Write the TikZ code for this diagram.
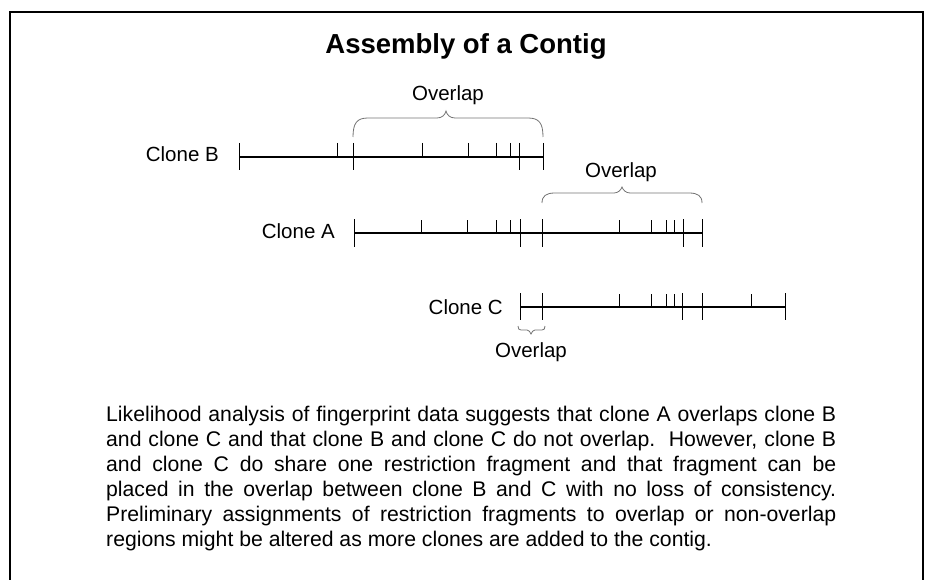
\documentclass[tikz,border=0pt]{standalone}
\usepackage{fontspec}
\setmainfont{Liberation Sans}
\begin{document}
\begin{tikzpicture}[x=1pt,y=-1pt,
  frame/.style={line width=1.1pt},
  cloneline/.style={line width=1.1pt},
  tickmark/.style={line width=1pt},
  overlapbrace/.style={black!55, line width=0.8pt},
  lbl/.style={font=\fontsize{20.5}{24}\selectfont, inner sep=0pt},
  titletext/.style={font=\bfseries\fontsize{27.5}{32}\selectfont, inner sep=0pt},
]
\useasboundingbox (0,0) rectangle (933,580);

% open frame (no bottom edge)
\coordinate (fBL) at (10,580);
\coordinate (fTL) at (10,12);
\coordinate (fTR) at (923,12);
\coordinate (fBR) at (923,580);
\draw[frame] (fBL) -- (fTL) -- (fTR) -- (fBR);

\node[titletext, anchor=base] (title) at (466,54) {Assembly of a Contig};

% ---- Clone B ----
\coordinate (bL) at (239,157);
\coordinate (bR) at (543,157);
\draw[cloneline] (bL) -- (bR);
\foreach \x in {239,353,519,543} \draw[tickmark] (\x,143) -- (\x,170);
\foreach \x in {337,422,468,496,510} \draw[tickmark] (\x,143) -- (\x,157);
\node[lbl, anchor=base east] (cloneB) at (219,161) {Clone B};

% ---- Clone A ----
\coordinate (aL) at (354,233);
\coordinate (aR) at (702,233);
\draw[cloneline] (aL) -- (aR);
\foreach \x in {354,520,542,683,702} \draw[tickmark] (\x,219) -- (\x,247);
\foreach \x in {421,467,496,510,619,651,666,674} \draw[tickmark] (\x,220) -- (\x,233);
\node[lbl, anchor=base east] (cloneA) at (335,238) {Clone A};

% ---- Clone C ----
\coordinate (cL) at (520,307);
\coordinate (cR) at (785,307);
\draw[cloneline] (cL) -- (cR);
\foreach \x in {520,542,682,702,785} \draw[tickmark] (\x,293) -- (\x,320);
\foreach \x in {619,651,666,674,751} \draw[tickmark] (\x,294) -- (\x,307);
\node[lbl, anchor=base east] (cloneC) at (503,314) {Clone C};

% ---- overlap braces ----
\draw[overlapbrace] (353,137) .. controls (353,123) and (357,118) .. (368,118)
  -- (437,118) .. controls (442,118) and (445,115) .. (446,111)
  .. controls (447,115) and (450,118) .. (455,118)
  -- (528,118) .. controls (539,118) and (543,123) .. (543,137);
\node[lbl, anchor=base] (ovB) at (448,101) {Overlap};

\draw[overlapbrace] (542,203) .. controls (542,196) and (546,193) .. (555,193)
  -- (614,193) .. controls (618,193) and (621,190) .. (622,187)
  .. controls (623,190) and (626,193) .. (630,193)
  -- (689,193) .. controls (698,193) and (702,196) .. (702,203);
\node[lbl, anchor=base] (ovA) at (621,178) {Overlap};

\draw[overlapbrace] (518,326) .. controls (518,329) and (519,330) .. (521,330)
  -- (527,330) .. controls (529,330) and (530,332) .. (531,334)
  .. controls (532,332) and (533,330) .. (535,330)
  -- (542,330) .. controls (544,330) and (545,329) .. (545,326);
\node[lbl, anchor=base] (ovC) at (531,357) {Overlap};

% ---- caption paragraph ----
\node[inner sep=0pt, anchor=base west] (caption) at (106,421) {%
  \parbox[t]{730pt}{\fontsize{21.2}{25}\selectfont
  \tolerance=10000 \hbadness=10000 \parindent=0pt
  Likelihood analysis of fingerprint data suggests that clone A overlaps clone B\linebreak
  and clone C and that clone B and clone C do not overlap.\ \ However, clone B\linebreak
  and clone C do share one restriction fragment and that fragment can be\linebreak
  placed in the overlap between clone B and C with no loss of consistency.\linebreak
  Preliminary assignments of restriction fragments to overlap or non-overlap\linebreak
  regions might be altered as more clones are added to the contig.}};
\end{tikzpicture}
\end{document}
